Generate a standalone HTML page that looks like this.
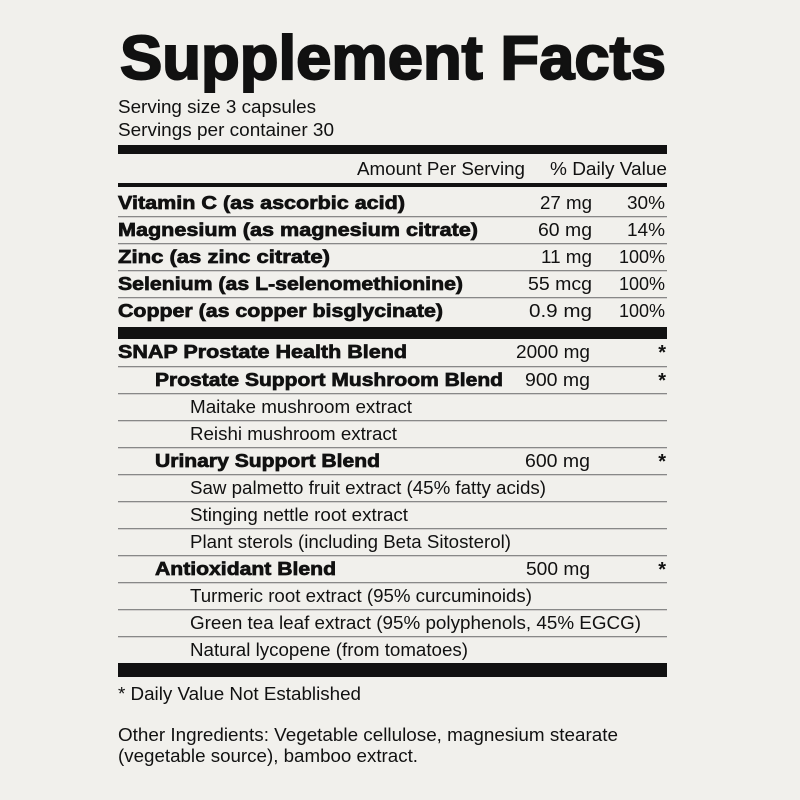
<!DOCTYPE html>
<html><head><meta charset="utf-8"><style>
html,body{margin:0;padding:0;background:#f1f0ec;}
svg{display:block;}
text{font-family:"Liberation Sans",Arial,sans-serif;fill:#111;}
.b{font-weight:bold;font-size:18px;stroke:#111;stroke-width:0.7px;}
.r{font-size:18px;}
.s{font-weight:bold;font-size:20px;}
</style></head><body>
<svg width="800" height="800" viewBox="0 0 800 800">
<rect width="800" height="800" fill="#f1f0ec"/>
<text x="120" y="79" font-size="62" textLength="546" lengthAdjust="spacingAndGlyphs" style="font-weight:bold;stroke:#111;stroke-width:2px">Supplement Facts</text>
<text class="r" x="118" y="113" textLength="198" lengthAdjust="spacingAndGlyphs">Serving size 3 capsules</text>
<text class="r" x="118" y="136" textLength="216" lengthAdjust="spacingAndGlyphs">Servings per container 30</text>
<rect x="118" y="145" width="549" height="9" fill="#111"/>
<text class="r" x="357" y="175" textLength="168" lengthAdjust="spacingAndGlyphs">Amount Per Serving</text>
<text class="r" x="550" y="175" textLength="117" lengthAdjust="spacingAndGlyphs">% Daily Value</text>
<rect x="118" y="183" width="549" height="4" fill="#111"/>
<g fill="#888">
<rect x="118" y="216" width="549" height="1.3"/>
<rect x="118" y="243" width="549" height="1.3"/>
<rect x="118" y="270" width="549" height="1.3"/>
<rect x="118" y="297" width="549" height="1.3"/>
<rect x="118" y="366" width="549" height="1.3"/>
<rect x="118" y="393" width="549" height="1.3"/>
<rect x="118" y="420" width="549" height="1.3"/>
<rect x="118" y="447" width="549" height="1.3"/>
<rect x="118" y="474" width="549" height="1.3"/>
<rect x="118" y="501" width="549" height="1.3"/>
<rect x="118" y="528" width="549" height="1.3"/>
<rect x="118" y="555" width="549" height="1.3"/>
<rect x="118" y="582" width="549" height="1.3"/>
<rect x="118" y="609" width="549" height="1.3"/>
<rect x="118" y="636" width="549" height="1.3"/>
</g>
<rect x="118" y="327" width="549" height="12" fill="#111"/>
<rect x="118" y="663" width="549" height="14" fill="#111"/>
<text class="b" x="118" y="209" textLength="287" lengthAdjust="spacingAndGlyphs">Vitamin C (as ascorbic acid)</text>
<text class="b" x="118" y="236" textLength="360" lengthAdjust="spacingAndGlyphs">Magnesium (as magnesium citrate)</text>
<text class="b" x="118" y="263" textLength="212" lengthAdjust="spacingAndGlyphs">Zinc (as zinc citrate)</text>
<text class="b" x="118" y="290" textLength="345" lengthAdjust="spacingAndGlyphs">Selenium (as L-selenomethionine)</text>
<text class="b" x="118" y="317" textLength="325" lengthAdjust="spacingAndGlyphs">Copper (as copper bisglycinate)</text>
<text class="b" x="118" y="358" textLength="289" lengthAdjust="spacingAndGlyphs">SNAP Prostate Health Blend</text>
<text class="b" x="155" y="386" textLength="348" lengthAdjust="spacingAndGlyphs">Prostate Support Mushroom Blend</text>
<text class="b" x="155" y="467" textLength="225" lengthAdjust="spacingAndGlyphs">Urinary Support Blend</text>
<text class="b" x="155" y="575" textLength="181" lengthAdjust="spacingAndGlyphs">Antioxidant Blend</text>
<text class="r" x="540" y="209" textLength="52" lengthAdjust="spacingAndGlyphs">27 mg</text>
<text class="r" x="627" y="209" textLength="38" lengthAdjust="spacingAndGlyphs">30%</text>
<text class="r" x="538" y="236" textLength="54" lengthAdjust="spacingAndGlyphs">60 mg</text>
<text class="r" x="627" y="236" textLength="38" lengthAdjust="spacingAndGlyphs">14%</text>
<text class="r" x="541" y="263" textLength="51" lengthAdjust="spacingAndGlyphs">11 mg</text>
<text class="r" x="619" y="263" textLength="46" lengthAdjust="spacingAndGlyphs">100%</text>
<text class="r" x="528" y="290" textLength="64" lengthAdjust="spacingAndGlyphs">55 mcg</text>
<text class="r" x="619" y="290" textLength="46" lengthAdjust="spacingAndGlyphs">100%</text>
<text class="r" x="529" y="317" textLength="63" lengthAdjust="spacingAndGlyphs">0.9 mg</text>
<text class="r" x="619" y="317" textLength="46" lengthAdjust="spacingAndGlyphs">100%</text>
<text class="r" x="516" y="358" textLength="74" lengthAdjust="spacingAndGlyphs">2000 mg</text>
<text class="s" x="666" y="359" text-anchor="end">*</text>
<text class="r" x="525" y="386" textLength="65" lengthAdjust="spacingAndGlyphs">900 mg</text>
<text class="s" x="666" y="387" text-anchor="end">*</text>
<text class="r" x="525" y="467" textLength="65" lengthAdjust="spacingAndGlyphs">600 mg</text>
<text class="s" x="666" y="468" text-anchor="end">*</text>
<text class="r" x="526" y="575" textLength="64" lengthAdjust="spacingAndGlyphs">500 mg</text>
<text class="s" x="666" y="576" text-anchor="end">*</text>
<text class="r" x="190" y="413" textLength="222" lengthAdjust="spacingAndGlyphs">Maitake mushroom extract</text>
<text class="r" x="190" y="440" textLength="207" lengthAdjust="spacingAndGlyphs">Reishi mushroom extract</text>
<text class="r" x="190" y="494" textLength="356" lengthAdjust="spacingAndGlyphs">Saw palmetto fruit extract (45% fatty acids)</text>
<text class="r" x="190" y="521" textLength="218" lengthAdjust="spacingAndGlyphs">Stinging nettle root extract</text>
<text class="r" x="190" y="548" textLength="321" lengthAdjust="spacingAndGlyphs">Plant sterols (including Beta Sitosterol)</text>
<text class="r" x="190" y="602" textLength="342" lengthAdjust="spacingAndGlyphs">Turmeric root extract (95% curcuminoids)</text>
<text class="r" x="190" y="629" textLength="451" lengthAdjust="spacingAndGlyphs">Green tea leaf extract (95% polyphenols, 45% EGCG)</text>
<text class="r" x="190" y="656" textLength="278" lengthAdjust="spacingAndGlyphs">Natural lycopene (from tomatoes)</text>
<text class="r" x="118" y="700" textLength="243" lengthAdjust="spacingAndGlyphs">* Daily Value Not Established</text>
<text class="r" x="118" y="741" textLength="500" lengthAdjust="spacingAndGlyphs">Other Ingredients: Vegetable cellulose, magnesium stearate</text>
<text class="r" x="118" y="762" textLength="300" lengthAdjust="spacingAndGlyphs">(vegetable source), bamboo extract.</text>
</svg>
</body></html>
